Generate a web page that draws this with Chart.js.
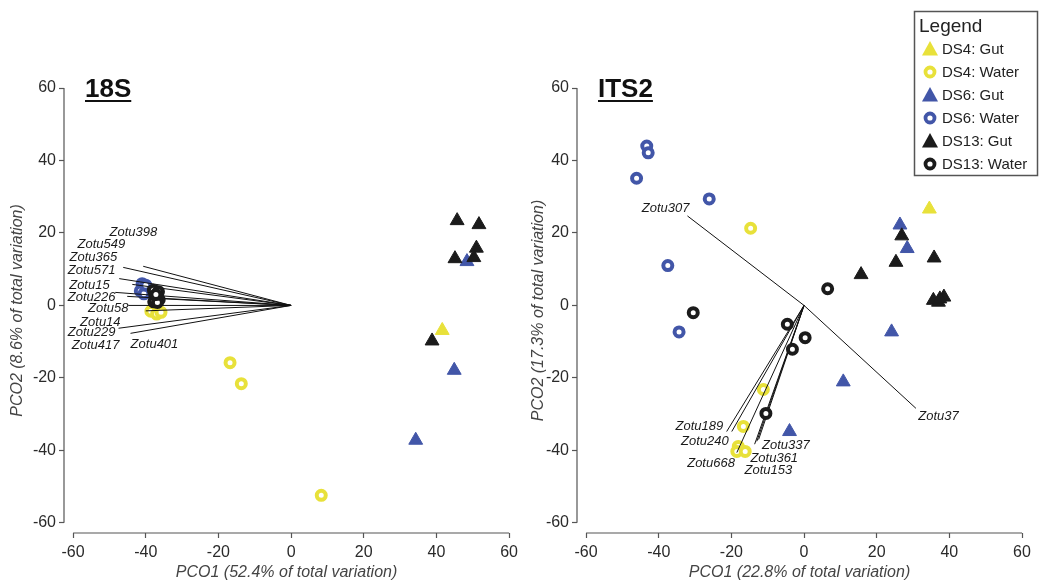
<!DOCTYPE html>
<html>
<head>
<meta charset="utf-8">
<script src="https://cdn.jsdelivr.net/npm/chart.js@4.4.1/dist/chart.umd.min.js"></script>
<style>
  html, body { margin: 0; padding: 0; background: #fff; }
  #wrap { position: relative; width: 1047px; height: 582px; }
  .panel { position: absolute; top: 0; }
  #left { left: 0; }
  #right { left: 523px; }
</style>
</head>
<body>
<div id="wrap">
  <div class="panel" id="left"><canvas id="c18s" width="523" height="582"></canvas></div>
  <div class="panel" id="right"><canvas id="cits2" width="524" height="582"></canvas></div>
</div>
<script>
// Groups (legend order)
const groupNames = ['DS4: Gut', 'DS4: Water', 'DS6: Gut', 'DS6: Water', 'DS13: Gut', 'DS13: Water'];
const axisTicks = [-60, -40, -20, 0, 20, 40, 60];

// 18S ordination scores [PCO1, PCO2]
const s18Ds4Gut = [[41.6, -6.9]];
const s18Ds4Water = [[-16.8, -15.8], [-13.7, -21.6], [8.3, -52.4], [-38.6, -1.6], [-37.0, -2.4], [-35.8, -1.9]];
const s18Ds6Gut = [[48.4, 12.1], [44.9, -17.9], [34.3, -37.2]];
const s18Ds6Water = [[-41.0, 6.0], [-41.5, 4.0], [-40.5, 3.2], [-40.0, 5.6]];
const s18Ds13Gut = [[45.7, 23.4], [51.7, 22.3], [51.0, 15.8], [45.1, 12.9], [50.3, 13.2], [38.8, -9.8]];
const s18Ds13Water = [[-37.9, 4.2], [-36.5, 3.8], [-37.5, 2.5], [-36.3, 1.6], [-37.8, 1.0], [-36.8, 0.8], [-37.2, 3.0]];

// 18S Zotu vectors
const s18ZotuNames = ['Zotu398', 'Zotu549', 'Zotu365', 'Zotu571', 'Zotu15', 'Zotu226', 'Zotu58', 'Zotu14', 'Zotu229', 'Zotu417', 'Zotu401'];
const s18ZotuX = [-40.7, -46.2, -47.3, -43.7, -48.4, -45.1, -44.8, -40.0, -47.5, -44.2, -38.5];
const s18ZotuY = [10.8, 10.5, 7.4, 5.8, 3.6, 2.5, 0.0, -1.5, -6.3, -7.7, 2.0];
const s18LabelX = [-43.4, -52.2, -54.4, -54.9, -55.5, -54.9, -50.3, -52.5, -54.9, -53.8, -37.6];
const s18LabelY = [20.1, 16.8, 13.2, 9.7, 5.5, 2.2, -0.8, -4.7, -7.4, -11.0, -10.8];

// ITS2 ordination scores [PCO1, PCO2]
const itsDs4Gut = [[34.5, 26.6]];
const itsDs4Water = [[-14.7, 21.3], [-11.2, -23.2], [-16.7, -33.4], [-18.1, -38.9], [-18.5, -40.3], [-16.2, -40.3]];
const itsDs6Gut = [[26.4, 22.2], [28.4, 15.7], [24.1, -7.3], [10.8, -21.1], [-4.0, -34.8]];
const itsDs6Water = [[-43.3, 44.0], [-42.9, 42.1], [-46.1, 35.1], [-26.1, 29.4], [-37.5, 11.0], [-34.4, -7.3]];
const itsDs13Gut = [[26.9, 19.2], [25.3, 11.9], [35.8, 13.1], [15.7, 8.5], [35.6, 1.4], [37.0, 0.9], [38.5, 2.3], [37.4, 1.8]];
const itsDs13Water = [[-30.5, -2.0], [6.5, 4.6], [-4.6, -5.2], [0.3, -8.9], [-3.2, -12.1], [-10.5, -29.8]];

// ITS2 Zotu vectors
const itsZotuNames = ['Zotu307', 'Zotu37', 'Zotu189', 'Zotu240', 'Zotu668', 'Zotu337', 'Zotu361', 'Zotu153'];
const itsZotuX = [-32.1, 30.8, -21.3, -19.9, -18.5, -13.0, -13.6, -12.5];
const itsZotuY = [24.7, -28.4, -34.8, -34.8, -40.6, -37.5, -38.3, -37.0];
const itsLabelX = [-38.1, 37.0, -28.8, -27.3, -25.6, -5.0, -8.2, -9.8];
const itsLabelY = [26.7, -30.5, -33.4, -37.6, -43.5, -38.6, -42.2, -45.4];

const FONT = "'Liberation Sans', Arial, sans-serif";
const COLORS = {
  yellow: '#e8e13a',
  blue: '#4256a8',
  black: '#1b1b1b',
  axis: '#555555',
  text: '#2a2a2a',
  title: '#444444'
};
const groupStyles = [
  { color: COLORS.yellow, shape: 'triangle' },
  { color: COLORS.yellow, shape: 'circle' },
  { color: COLORS.blue, shape: 'triangle' },
  { color: COLORS.blue, shape: 'circle' },
  { color: COLORS.black, shape: 'triangle' },
  { color: COLORS.black, shape: 'circle' }
];

function pointDatasets(groups) {
  return groups.map((pts, i) => {
    const st = groupStyles[i];
    const tri = st.shape === 'triangle';
    return {
      label: groupNames[i],
      data: pts.map(p => ({ x: p[0], y: p[1] })),
      pointStyle: tri ? 'triangle' : 'circle',
      pointRadius: tri ? 8 : 4.5,
      pointHoverRadius: tri ? 8 : 4.5,
      pointBorderWidth: tri ? 1 : 4,
      pointBackgroundColor: tri ? st.color : '#ffffff',
      pointBorderColor: st.color,
      showLine: false,
      order: st.color === COLORS.black ? 0 : 2
    };
  });
}

function vectorDatasets(xs, ys) {
  return xs.map((x, i) => ({
    label: 'vec' + i,
    data: [{ x: 0, y: 0 }, { x: x, y: ys[i] }],
    showLine: true,
    borderColor: '#111111',
    borderWidth: 1,
    pointRadius: 0,
    pointHoverRadius: 0,
    order: 1
  }));
}

// draws the offset axis lines between -60 and 60
const axisLines = {
  id: 'axisLines',
  afterDraw(chart) {
    const { ctx, chartArea, scales } = chart;
    const lo = axisTicks[0], hi = axisTicks[axisTicks.length - 1];
    ctx.save();
    ctx.strokeStyle = COLORS.axis;
    ctx.lineWidth = 1.2;
    ctx.beginPath();
    ctx.moveTo(chartArea.left, scales.y.getPixelForValue(lo));
    ctx.lineTo(chartArea.left, scales.y.getPixelForValue(hi));
    ctx.moveTo(scales.x.getPixelForValue(lo), chartArea.bottom);
    ctx.lineTo(scales.x.getPixelForValue(hi), chartArea.bottom);
    ctx.stroke();
    ctx.restore();
  }
};

const zotuLabels = {
  id: 'zotuLabels',
  afterDatasetsDraw(chart, args, opts) {
    const { ctx, scales } = chart;
    ctx.save();
    ctx.fillStyle = '#1a1a1a';
    ctx.font = 'italic 13px ' + FONT;
    ctx.textAlign = 'center';
    ctx.textBaseline = 'middle';
    opts.names.forEach((n, i) => {
      ctx.fillText(n, scales.x.getPixelForValue(opts.x[i]), scales.y.getPixelForValue(opts.y[i]));
    });
    ctx.restore();
  }
};

const panelTitle = {
  id: 'panelTitle',
  afterDraw(chart, args, opts) {
    const { ctx } = chart;
    ctx.save();
    ctx.fillStyle = '#111111';
    ctx.font = 'bold 26px ' + FONT;
    ctx.textAlign = 'left';
    ctx.textBaseline = 'alphabetic';
    ctx.fillText(opts.text, opts.x, 97);
    const w = ctx.measureText(opts.text).width;
    ctx.fillRect(opts.x, 100, w, 2);
    ctx.restore();
  }
};

const legendBox = {
  id: 'legendBox',
  afterDraw(chart) {
    const { ctx } = chart;
    const left = 391, top = 11, w = 123, h = 164;
    ctx.save();
    ctx.strokeStyle = '#555555';
    ctx.lineWidth = 1.5;
    ctx.strokeRect(left + 0.5, top + 0.5, w, h);
    ctx.fillStyle = '#222222';
    ctx.font = '19px ' + FONT;
    ctx.textBaseline = 'middle';
    ctx.textAlign = 'left';
    ctx.fillText('Legend', left + 5, top + 16);
    ctx.font = '15px ' + FONT;
    groupNames.forEach((name, i) => {
      const y = top + 38 + i * 23;
      const mx = left + 16;
      const st = groupStyles[i];
      if (st.shape === 'triangle') {
        ctx.fillStyle = st.color;
        ctx.beginPath();
        ctx.moveTo(mx, y - 8);
        ctx.lineTo(mx + 8, y + 6.5);
        ctx.lineTo(mx - 8, y + 6.5);
        ctx.closePath();
        ctx.fill();
      } else {
        ctx.strokeStyle = st.color;
        ctx.lineWidth = 3.8;
        ctx.beginPath();
        ctx.arc(mx, y, 4.5, 0, Math.PI * 2);
        ctx.stroke();
      }
      ctx.fillStyle = '#222222';
      ctx.fillText(name, left + 28, y + 1);
    });
    ctx.restore();
  }
};

function axisScales(xTitle, yTitle, yWidth, yTitlePad) {
  const tickFont = { size: 16, family: FONT };
  const titleFont = { size: 16, style: 'italic', family: FONT };
  return {
    x: {
      type: 'linear', min: -62.5, max: 60,
      afterBuildTicks: s => { s.ticks = axisTicks.map(v => ({ value: v })); },
      afterFit: s => { s.height = 49; },
      grid: { drawOnChartArea: false, drawTicks: true, tickLength: 5, tickColor: COLORS.axis, tickWidth: 1.2 },
      border: { display: false },
      ticks: { color: COLORS.text, font: tickFont, padding: 5, maxRotation: 0, autoSkip: false },
      title: { display: true, text: xTitle, color: COLORS.title, font: titleFont, padding: { top: 0, bottom: 0 } }
    },
    y: {
      type: 'linear', min: -62.8, max: 60,
      afterBuildTicks: s => { s.ticks = axisTicks.map(v => ({ value: v })); },
      afterFit: s => { s.width = yWidth; },
      grid: { drawOnChartArea: false, drawTicks: true, tickLength: 5, tickColor: COLORS.axis, tickWidth: 1.2 },
      border: { display: false },
      ticks: { color: COLORS.text, font: tickFont, padding: 3, autoSkip: false },
      title: { display: true, text: yTitle, color: COLORS.title, font: titleFont, padding: { top: yTitlePad, bottom: 0 } }
    }
  };
}

function makePanel(id, cfg) {
  return new Chart(document.getElementById(id), {
    type: 'scatter',
    data: {
      datasets: vectorDatasets(cfg.vx, cfg.vy).concat(pointDatasets(cfg.groups))
    },
    options: {
      responsive: false,
      animation: false,
      layout: { padding: { top: 88, right: cfg.rightPad, left: 0, bottom: 0 } },
      plugins: {
        legend: { display: false },
        tooltip: { enabled: false },
        zotuLabels: { names: cfg.names, x: cfg.lx, y: cfg.ly },
        panelTitle: { text: cfg.title, x: cfg.titleX }
      },
      scales: axisScales(cfg.xTitle, cfg.yTitle, cfg.yWidth, cfg.yTitlePad)
    },
    plugins: [axisLines, zotuLabels, panelTitle].concat(cfg.extra || [])
  });
}

makePanel('c18s', {
  title: '18S', titleX: 85,
  groups: [s18Ds4Gut, s18Ds4Water, s18Ds6Gut, s18Ds6Water, s18Ds13Gut, s18Ds13Water],
  vx: s18ZotuX, vy: s18ZotuY, names: s18ZotuNames, lx: s18LabelX, ly: s18LabelY,
  xTitle: 'PCO1 (52.4% of total variation)', yTitle: 'PCO2 (8.6% of total variation)',
  yWidth: 64, yTitlePad: 8, rightPad: 13
});

makePanel('cits2', {
  title: 'ITS2', titleX: 75,
  groups: [itsDs4Gut, itsDs4Water, itsDs6Gut, itsDs6Water, itsDs13Gut, itsDs13Water],
  vx: itsZotuX, vy: itsZotuY, names: itsZotuNames, lx: itsLabelX, ly: itsLabelY,
  xTitle: 'PCO1 (22.8% of total variation)', yTitle: 'PCO2 (17.3% of total variation)',
  yWidth: 54, yTitlePad: 6, rightPad: 25,
  extra: [legendBox]
});
</script>
</body>
</html>
